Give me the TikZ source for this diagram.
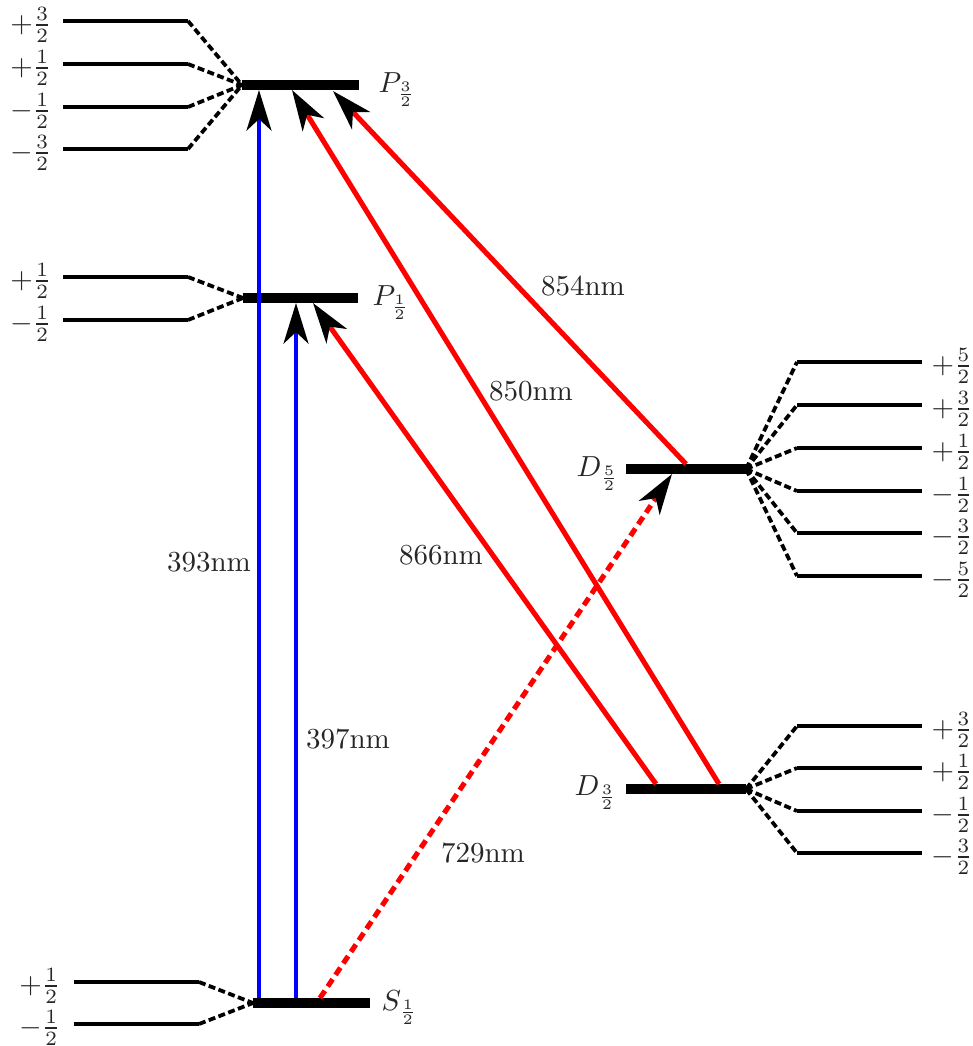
\documentclass[tikz,border=0pt]{standalone}
\usetikzlibrary{arrows.meta}
\begin{document}
\begin{tikzpicture}[x=0.3448pt, y=-0.3448pt,
  level/.style={line width=3.5pt},
  sub/.style={line width=1.4pt},
  split/.style={line width=1.3pt, dash pattern=on 2.4pt off 1.2pt},
  tip/.style={-{Stealth[length=14pt,width=8.6pt,inset=4pt,black]}},
  blueline/.style={blue, line width=1.45pt, tip},
  redline/.style={red, line width=1.75pt, tip},
  reddash/.style={redline, dash pattern=on 3pt off 1.8pt},
  mlab/.style={inner sep=0pt, text=black!85},
  lvllab/.style={inner sep=0pt, text=black!85, anchor=base west},
  wl/.style={inner sep=0pt, text=black!85}]
\useasboundingbox (0,0) rectangle (972,1046);

% fine-structure levels
\coordinate (P3L) at (242,85);  \coordinate (P3R) at (359,85);
\coordinate (P1L) at (243,298); \coordinate (P1R) at (358,298);
\coordinate (S1L) at (253,1003); \coordinate (S1R) at (370,1003);
\coordinate (D5L) at (626,469); \coordinate (D5R) at (746,469);
\coordinate (D3L) at (626,789); \coordinate (D3R) at (746,789);
\draw[level] (P3L) -- (P3R);
\draw[level] (P1L) -- (P1R);
\draw[level] (S1L) -- (S1R);
\draw[level] (D5L) -- (D5R);
\draw[level] (D3L) -- (D3R);

\node[lvllab] (P3lab) at (378,92) {$P_{\frac{3}{2}}$};
\node[lvllab] (P1lab) at (372,305) {$P_{\frac{1}{2}}$};
\node[lvllab] (S1lab) at (381,1010) {$S_{\frac{1}{2}}$};
\node[lvllab] (D5lab) at (576,476) {$D_{\frac{5}{2}}$};
\node[lvllab] (D3lab) at (574,795) {$D_{\frac{3}{2}}$};

% Zeeman sublevels of P_{3/2}
\foreach \y/\m [count=\i] in {21/+\frac{3}{2}, 64/+\frac{1}{2}, 107/-\frac{1}{2}, 149/-\frac{3}{2}} {
  \coordinate (p3a\i) at (63,\y); \coordinate (p3b\i) at (188,\y);
  \draw[sub] (p3a\i) -- (p3b\i);
  \draw[split] (p3b\i) -- (P3L);
  \node[mlab, anchor=east] (p3t\i) at (52,{\y+4}) {$\m$};
}
% Zeeman sublevels of P_{1/2}
\foreach \y/\m [count=\i] in {277/+\frac{1}{2}, 320/-\frac{1}{2}} {
  \coordinate (p1a\i) at (63,\y); \coordinate (p1b\i) at (188,\y);
  \draw[sub] (p1a\i) -- (p1b\i);
  \draw[split] (p1b\i) -- (P1L);
  \node[mlab, anchor=east] (p1t\i) at (52,{\y+4}) {$\m$};
}
% Zeeman sublevels of S_{1/2}
\foreach \y/\m [count=\i] in {982/+\frac{1}{2}, 1024/-\frac{1}{2}} {
  \coordinate (sa\i) at (74,\y); \coordinate (sb\i) at (199,\y);
  \draw[sub] (sa\i) -- (sb\i);
  \draw[split] (sb\i) -- (S1L);
  \node[mlab, anchor=east] (st\i) at (61,{\y+4}) {$\m$};
}
% Zeeman sublevels of D_{5/2}
\foreach \y/\m [count=\i] in {362/+\frac{5}{2}, 405/+\frac{3}{2}, 448/+\frac{1}{2}, 491/-\frac{1}{2}, 533/-\frac{3}{2}, 576/-\frac{5}{2}} {
  \coordinate (d5a\i) at (797,\y); \coordinate (d5b\i) at (922,\y);
  \draw[sub] (d5a\i) -- (d5b\i);
  \draw[split] (D5R) -- (d5a\i);
  \node[mlab, anchor=west] (d5t\i) at (931,{\y+4}) {$\m$};
}
% Zeeman sublevels of D_{3/2}
\foreach \y/\m [count=\i] in {726/+\frac{3}{2}, 768/+\frac{1}{2}, 811/-\frac{1}{2}, 853/-\frac{3}{2}} {
  \coordinate (d3a\i) at (797,\y); \coordinate (d3b\i) at (922,\y);
  \draw[sub] (d3a\i) -- (d3b\i);
  \draw[split] (D3R) -- (d3a\i);
  \node[mlab, anchor=west] (d3t\i) at (931,{\y+4}) {$\m$};
}

% transition end points
\coordinate (s393) at (259,998);  \coordinate (e393) at (259,90);
\coordinate (s397) at (296,998);  \coordinate (e397) at (296,303);
\coordinate (s729) at (320,998);  \coordinate (e729) at (672,474);
\coordinate (s866) at (656,784);  \coordinate (e866) at (313,303);
\coordinate (s850) at (719,784);  \coordinate (e850) at (292,90);
\coordinate (s854) at (686,464);  \coordinate (e854) at (333,91);

\draw[blueline] (s393) -- (e393);
\draw[blueline] (s397) -- (e397);
\draw[redline] (s866) -- (e866);
\draw[redline] (s850) -- (e850);
\draw[redline] (s854) -- (e854);
\draw[reddash] (s729) -- (e729);

\node[wl] (l393) at (209,562) {393nm};
\node[wl] (l397) at (348,739) {397nm};
\node[wl] (l866) at (441,555) {866nm};
\node[wl] (l850) at (531,391) {850nm};
\node[wl] (l854) at (583,286) {854nm};
\node[wl] (l729) at (483,853) {729nm};
\end{tikzpicture}
\end{document}
